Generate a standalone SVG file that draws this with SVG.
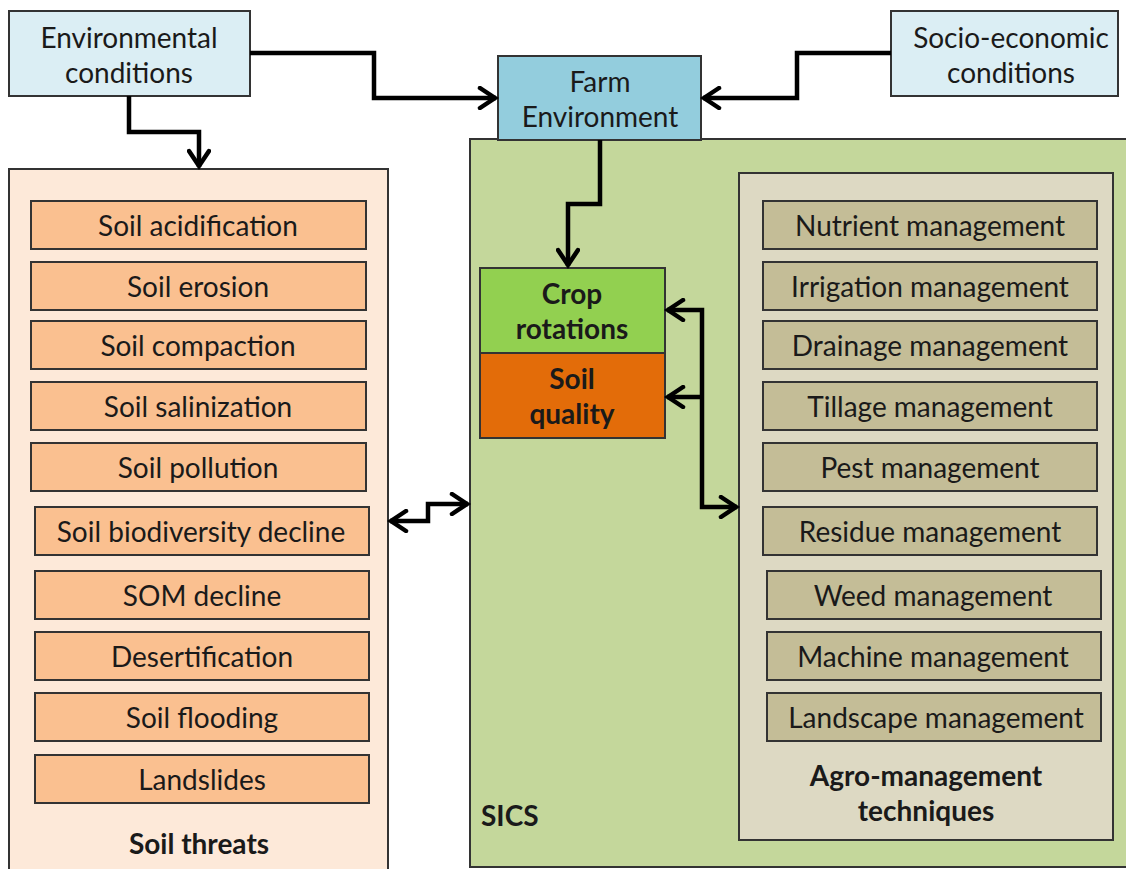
<svg xmlns="http://www.w3.org/2000/svg" width="1126" height="869" viewBox="0 0 1126 869">
  <style>
    text { font-family: Lato, "Open Sans", "Liberation Sans", sans-serif; font-size: 28px; fill: #1a1a1a; text-anchor: middle; dominant-baseline: central; }
    .bold { font-weight: bold; }
    .box { stroke: #333; stroke-width: 2; }
    .env { fill: #DBEEF4; }
    .farm { fill: #93CDDD; }
    .threatPanel { fill: #FDE9D9; }
    .threat { fill: #FAC090; }
    .sics { fill: #C4D79B; }
    .agroPanel { fill: #DDD9C3; }
    .agro { fill: #C4BD97; }
    .conn { fill: none; stroke: #000; stroke-width: 4.5; stroke-linejoin: miter; }
  </style>
  <defs>
    <marker id="arrow" viewBox="0 0 24 24" refX="20" refY="12" markerWidth="24" markerHeight="24" markerUnits="userSpaceOnUse" orient="auto-start-reverse">
      <path d="M4,2 L19,12 L4,22" fill="none" stroke="#000" stroke-width="4.5" stroke-linecap="round" stroke-linejoin="miter"/>
    </marker>
  </defs>

  <!-- containers -->
  <g id="soil-threats">
    <rect class="box threatPanel" x="9" y="169" width="379" height="710"/>
    <text class="bold" x="199" y="843">Soil threats</text>
  </g>
  <g id="sics">
    <rect class="box sics" x="470" y="139" width="666" height="728"/>
    <text class="bold" x="481" y="815" style="text-anchor:start">SICS</text>
  </g>
  <g id="agro-management">
    <rect class="box agroPanel" x="739" y="173" width="374" height="667"/>
    <text class="bold" x="926" y="775">Agro-management</text>
    <text class="bold" x="926" y="810">techniques</text>
  </g>

  <!-- top nodes -->
  <g id="environmental-conditions">
    <rect class="box env" x="9" y="11" width="241" height="85"/>
    <text x="129" y="37">Environmental</text>
    <text x="129" y="72">conditions</text>
  </g>
  <g id="farm-environment">
    <rect class="box farm" x="498" y="56" width="203" height="84"/>
    <text x="600" y="81">Farm</text>
    <text x="600" y="116">Environment</text>
  </g>
  <g id="socio-economic-conditions">
    <rect class="box env" x="891" y="11" width="227" height="85"/>
    <text x="1011" y="37">Socio-economic</text>
    <text x="1011" y="72">conditions</text>
  </g>

  <!-- crop rotations / soil quality -->
  <g id="crop-rotations">
    <rect class="box" fill="#92D050" x="480" y="268" width="185" height="85"/>
    <text class="bold" x="572" y="293">Crop</text>
    <text class="bold" x="572" y="328">rotations</text>
  </g>
  <g id="soil-quality">
    <rect class="box" fill="#E36C09" x="480" y="353" width="185" height="85"/>
    <text class="bold" x="572" y="378">Soil</text>
    <text class="bold" x="572" y="413">quality</text>
  </g>

  <!-- soil threat items -->
  <g id="soil-acidification"><rect class="box threat" x="31" y="201" width="335" height="48"/><text x="198" y="225">Soil acidification</text></g>
  <g id="soil-erosion"><rect class="box threat" x="31" y="262" width="335" height="48"/><text x="198" y="286">Soil erosion</text></g>
  <g id="soil-compaction"><rect class="box threat" x="31" y="321" width="335" height="48"/><text x="198" y="345">Soil compaction</text></g>
  <g id="soil-salinization"><rect class="box threat" x="31" y="382" width="335" height="48"/><text x="198" y="406">Soil salinization</text></g>
  <g id="soil-pollution"><rect class="box threat" x="31" y="443" width="335" height="48"/><text x="198" y="467">Soil pollution</text></g>
  <g id="soil-biodiversity-decline"><rect class="box threat" x="35" y="507" width="334" height="48"/><text x="201" y="531">Soil biodiversity decline</text></g>
  <g id="som-decline"><rect class="box threat" x="35" y="571" width="334" height="48"/><text x="202" y="595">SOM decline</text></g>
  <g id="desertification"><rect class="box threat" x="35" y="632" width="334" height="48"/><text x="202" y="656">Desertification</text></g>
  <g id="soil-flooding"><rect class="box threat" x="35" y="693" width="334" height="48"/><text x="202" y="717">Soil flooding</text></g>
  <g id="landslides"><rect class="box threat" x="35" y="755" width="334" height="48"/><text x="202" y="779">Landslides</text></g>

  <!-- agro-management items -->
  <g id="nutrient-management"><rect class="box agro" x="763" y="201" width="334" height="48"/><text x="930" y="225">Nutrient management</text></g>
  <g id="irrigation-management"><rect class="box agro" x="763" y="262" width="334" height="48"/><text x="930" y="286">Irrigation management</text></g>
  <g id="drainage-management"><rect class="box agro" x="763" y="321" width="334" height="48"/><text x="930" y="345">Drainage management</text></g>
  <g id="tillage-management"><rect class="box agro" x="763" y="382" width="334" height="48"/><text x="930" y="406">Tillage management</text></g>
  <g id="pest-management"><rect class="box agro" x="763" y="443" width="334" height="48"/><text x="930" y="467">Pest management</text></g>
  <g id="residue-management"><rect class="box agro" x="763" y="507" width="334" height="48"/><text x="930" y="531">Residue management</text></g>
  <g id="weed-management"><rect class="box agro" x="767" y="571" width="334" height="48"/><text x="933" y="595">Weed management</text></g>
  <g id="machine-management"><rect class="box agro" x="767" y="632" width="334" height="48"/><text x="933" y="656">Machine management</text></g>
  <g id="landscape-management"><rect class="box agro" x="767" y="693" width="334" height="48"/><text x="936" y="717">Landscape management</text></g>

  <!-- connectors -->
  <g id="connectors">
    <path class="conn" d="M250,53 H374 V98 H496" marker-end="url(#arrow)"/>
    <path class="conn" d="M891,53 H797 V98 H703" marker-end="url(#arrow)"/>
    <path class="conn" d="M129,96 V132 H199 V167" marker-end="url(#arrow)"/>
    <path class="conn" d="M600,140 V204 H568 V266" marker-end="url(#arrow)"/>
    <path class="conn" d="M390,521 H428 V504 H468" marker-start="url(#arrow)" marker-end="url(#arrow)"/>
    <path class="conn" d="M667,310 H702 V507 H737" marker-start="url(#arrow)" marker-end="url(#arrow)"/>
    <path class="conn" d="M702,397 H667" marker-end="url(#arrow)"/>
  </g>
</svg>
